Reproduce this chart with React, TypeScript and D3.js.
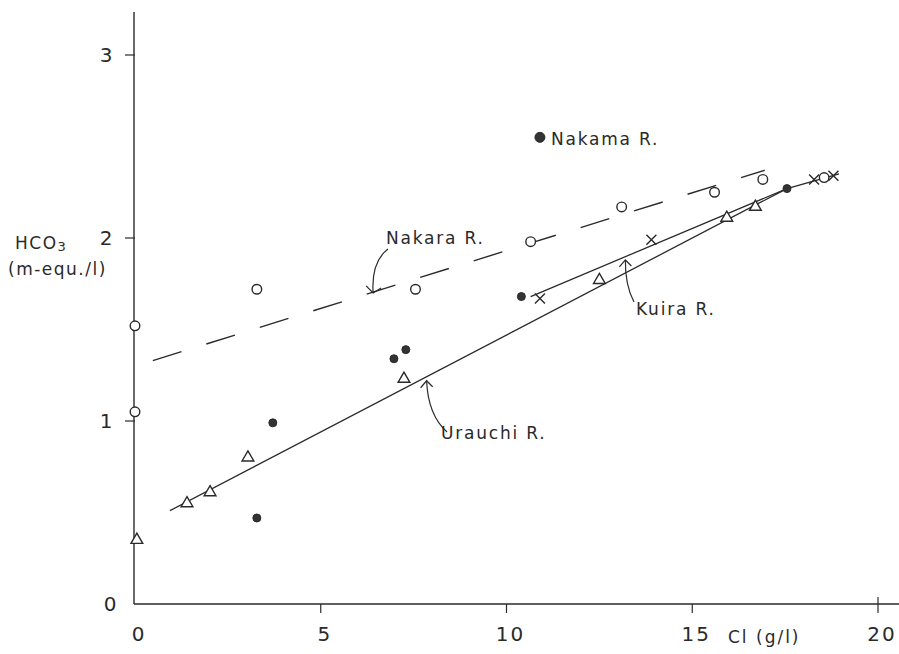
import React from "react";
import * as d3 from "d3";

// ---- data ----
const xTicks = [0, 5, 10, 15, 20];
const yTicks = [0, 1, 2, 3];

const nakaraX = [0, 0, 3.28, 7.55, 10.65, 13.1, 15.6, 16.9, 18.55];
const nakaraY = [1.52, 1.05, 1.72, 1.72, 1.98, 2.17, 2.25, 2.32, 2.33];

const urauchiX = [0.05, 1.4, 2.02, 3.04, 7.24, 12.5, 15.93, 16.7];
const urauchiY = [0.35, 0.55, 0.61, 0.8, 1.23, 1.77, 2.11, 2.17];

const kuiraX = [10.9, 13.9, 18.28, 18.8];
const kuiraY = [1.67, 1.99, 2.32, 2.34];

const nakamaX = [3.71, 3.28, 6.97, 7.29, 10.4, 17.55, 10.9];
const nakamaY = [0.99, 0.47, 1.34, 1.39, 1.68, 2.27, 2.55];

// fitted lines drawn in the figure (vertices, data units)
const nakaraLineX = [0.48, 16.95];
const nakaraLineY = [1.33, 2.37];
const urauchiLineX = [0.94, 17.55];
const urauchiLineY = [0.51, 2.27];
const kuiraLineX = [10.65, 17.55, 18.95];
const kuiraLineY = [1.68, 2.27, 2.35];

const W = 899;
const H = 654;

export default function App() {
  const x = d3.scaleLinear().domain([0, 20]).range([135, 878]);
  const y = d3.scaleLinear().domain([0, 3]).range([604, 55]);
  const ink = "#2a2a2a";
  const font = "'DejaVu Sans', sans-serif";
  const ls = 1.8;

  const line = d3
    .line<[number, number]>()
    .x((d) => x(d[0]))
    .y((d) => y(d[1]));

  const pts = (xs: number[], ys: number[]) =>
    xs.map((v, i) => [v, ys[i]] as [number, number]);

  const tri = d3.symbol().type(d3.symbolTriangle).size(60);

  const nakaraTip = [x(6.41), y(1.7)];
  const kuiraTip = [x(13.2), y(1.88)];
  const urauchiTip = [x(7.85), y(1.22)];

  return (
    <svg
      width={W}
      height={H}
      style={{ position: "absolute", left: 0, top: 0, background: "#fff" }}
    >
      <rect width={W} height={H} fill="#fff" />
      {/* axes */}
      <line x1={x(0) - 1} x2={x(0) - 1} y1={12} y2={y(0)} stroke={ink} strokeWidth={1.4} />
      <line x1={x(0) - 1} x2={W} y1={y(0)} y2={y(0)} stroke={ink} strokeWidth={1.4} />
      {yTicks.filter((t) => t > 0).map((t) => (
        <line key={"yt" + t} x1={x(0) - 10} x2={x(0)} y1={y(t)} y2={y(t)} stroke={ink} strokeWidth={1.2} />
      ))}
      {xTicks.filter((t) => t > 0).map((t) => (
        <line
          key={"xt" + t}
          x1={x(t)}
          x2={x(t)}
          y1={t === 20 ? y(0) - 7 : y(0)}
          y2={y(0) + 9}
          stroke={ink}
          strokeWidth={1.2}
        />
      ))}
      {yTicks.map((t) => (
        <text
          key={"yl" + t}
          x={t === 0 ? 110 : 106}
          y={y(t) + 7}
          textAnchor="middle"
          fontFamily={font}
          fontSize={20}
          fill={ink}
        >
          {t}
        </text>
      ))}
      {xTicks.map((t) => (
        <text
          key={"xl" + t}
          x={x(t) + 4}
          y={641}
          textAnchor="middle"
          fontFamily={font}
          fontSize={20}
          letterSpacing={2}
          fill={ink}
        >
          {t}
        </text>
      ))}
      <text x={728} y={643} fontFamily={font} fontSize={17} letterSpacing={2} fill={ink}>
        Cl (g/l)
      </text>
      <text x={15} y={249} fontFamily={font} fontSize={17} letterSpacing={1.5} fill={ink}>
        HCO
        <tspan fontSize={13} dy={2}>3</tspan>
      </text>
      <text x={8} y={275} fontFamily={font} fontSize={17} letterSpacing={1.5} fill={ink}>
        (m-equ./l)
      </text>

      {/* fitted lines */}
      <path
        d={line(pts(nakaraLineX, nakaraLineY)) || ""}
        fill="none"
        stroke={ink}
        strokeWidth={1.4}
        strokeDasharray="30 26"
      />
      <path d={line(pts(urauchiLineX, urauchiLineY)) || ""} fill="none" stroke={ink} strokeWidth={1.3} />
      <path d={line(pts(kuiraLineX, kuiraLineY)) || ""} fill="none" stroke={ink} strokeWidth={1.3} />

      {/* markers */}
      {pts(nakaraX, nakaraY).map((p, i) => (
        <circle key={"n" + i} cx={x(p[0])} cy={y(p[1])} r={4.8} fill="#fff" stroke={ink} strokeWidth={1.4} />
      ))}
      {pts(urauchiX, urauchiY).map((p, i) => (
        <path
          key={"u" + i}
          d={tri() || ""}
          transform={`translate(${x(p[0])},${y(p[1])})`}
          fill="#fff"
          stroke={ink}
          strokeWidth={1.4}
        />
      ))}
      {pts(kuiraX, kuiraY).map((p, i) => {
        const cx = x(p[0]);
        const cy = y(p[1]);
        const s = 5;
        return (
          <path
            key={"k" + i}
            d={`M${cx - s},${cy - s}L${cx + s},${cy + s}M${cx + s},${cy - s}L${cx - s},${cy + s}`}
            stroke={ink}
            strokeWidth={1.4}
            fill="none"
          />
        );
      })}
      {pts(nakamaX, nakamaY).map((p, i) => (
        <circle
          key={"m" + i}
          cx={x(p[0])}
          cy={y(p[1])}
          r={i === nakamaX.length - 1 ? 5 : 4}
          fill="#333"
          stroke={ink}
          strokeWidth={1}
        />
      ))}

      {/* labels and arrows */}
      <text x={x(10.9) + 11} y={y(2.55) + 8} fontFamily={font} fontSize={17} letterSpacing={ls} fill={ink}>
        Nakama R.
      </text>
      <text x={386} y={244} fontFamily={font} fontSize={17} letterSpacing={ls} fill={ink}>
        Nakara R.
      </text>
      <path
        d={`M${388},${249} Q${371},${262} ${nakaraTip[0]},${nakaraTip[1]}`}
        fill="none"
        stroke={ink}
        strokeWidth={1.2}
      />
      <path
        d={`M${nakaraTip[0] - 7},${nakaraTip[1] - 7} L${nakaraTip[0]},${nakaraTip[1]} L${nakaraTip[0] + 8},${nakaraTip[1] - 5}`}
        fill="none"
        stroke={ink}
        strokeWidth={1.2}
      />
      <text x={636} y={315} fontFamily={font} fontSize={17} letterSpacing={ls} fill={ink}>
        Kuira R.
      </text>
      <path
        d={`M${634},${302} Q${625},${285} ${kuiraTip[0]},${kuiraTip[1]}`}
        fill="none"
        stroke={ink}
        strokeWidth={1.2}
      />
      <path
        d={`M${kuiraTip[0] - 6},${kuiraTip[1] + 7} L${kuiraTip[0]},${kuiraTip[1]} L${kuiraTip[0] + 6},${kuiraTip[1] + 6}`}
        fill="none"
        stroke={ink}
        strokeWidth={1.2}
      />
      <text x={441} y={439} fontFamily={font} fontSize={17} letterSpacing={ls} fill={ink}>
        Urauchi R.
      </text>
      <path
        d={`M${447},${432} Q${428},${415} ${urauchiTip[0]},${urauchiTip[1]}`}
        fill="none"
        stroke={ink}
        strokeWidth={1.2}
      />
      <path
        d={`M${urauchiTip[0] - 6},${urauchiTip[1] + 7} L${urauchiTip[0]},${urauchiTip[1]} L${urauchiTip[0] + 6},${urauchiTip[1] + 6}`}
        fill="none"
        stroke={ink}
        strokeWidth={1.2}
      />
    </svg>
  );
}
